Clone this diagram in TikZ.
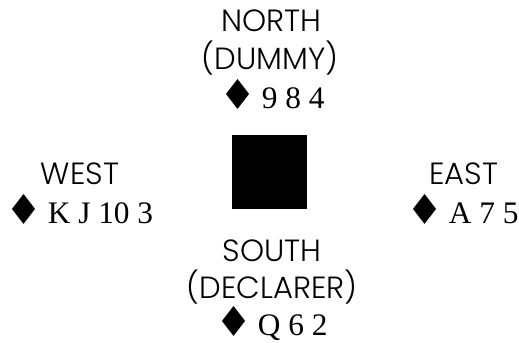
\documentclass[tikz,border=0pt]{standalone}
\usepackage{fontspec}
\setmainfont{Liberation Serif}
\newfontfamily\seatfont{Poppins Light}
\newfontfamily\suitfont{DejaVu Sans}
\usepackage{tikz}
\newcommand{\diam}{\raisebox{-1pt}[0pt][0pt]{\suitfont\fontsize{31}{30}\selectfont\kern-5pt♦}\kern-2pt}

\begin{document}
\begin{tikzpicture}[x=0.75pt,y=-0.75pt,
	seat/.style={anchor=base, inner sep=0pt, font=\seatfont\fontsize{23}{28}\selectfont},
	hand/.style={anchor=base west, inner sep=0pt, font=\fontsize{23.5}{28}\selectfont}]
	\useasboundingbox (0,0) rectangle (519,343);
	\node (table) [fill=black, minimum size=56pt, inner sep=0pt] at (269.5,172) {};
	\node (north) [seat] at (271,31) {NORTH};
	\node (dummy) [seat] at (270,69) {(DUMMY)};
	\node (nhand) [hand] at (226,108) {\diam{} 9 8 4};
	\node (west) [seat] at (80,184) {WEST};
	\node (whand) [hand] at (12,223) {\diam{} K J 10 3};
	\node (east) [seat] at (464,184) {EAST};
	\node (ehand) [hand] at (413,223) {\diam{} A 7 5};
	\node (south) [seat] at (272,261) {SOUTH};
	\node (declarer) [seat] at (272,298) {(DECLARER)};
	\node (shand) [hand] at (222,335) {\diam{} Q 6 2};
\end{tikzpicture}
\end{document}
